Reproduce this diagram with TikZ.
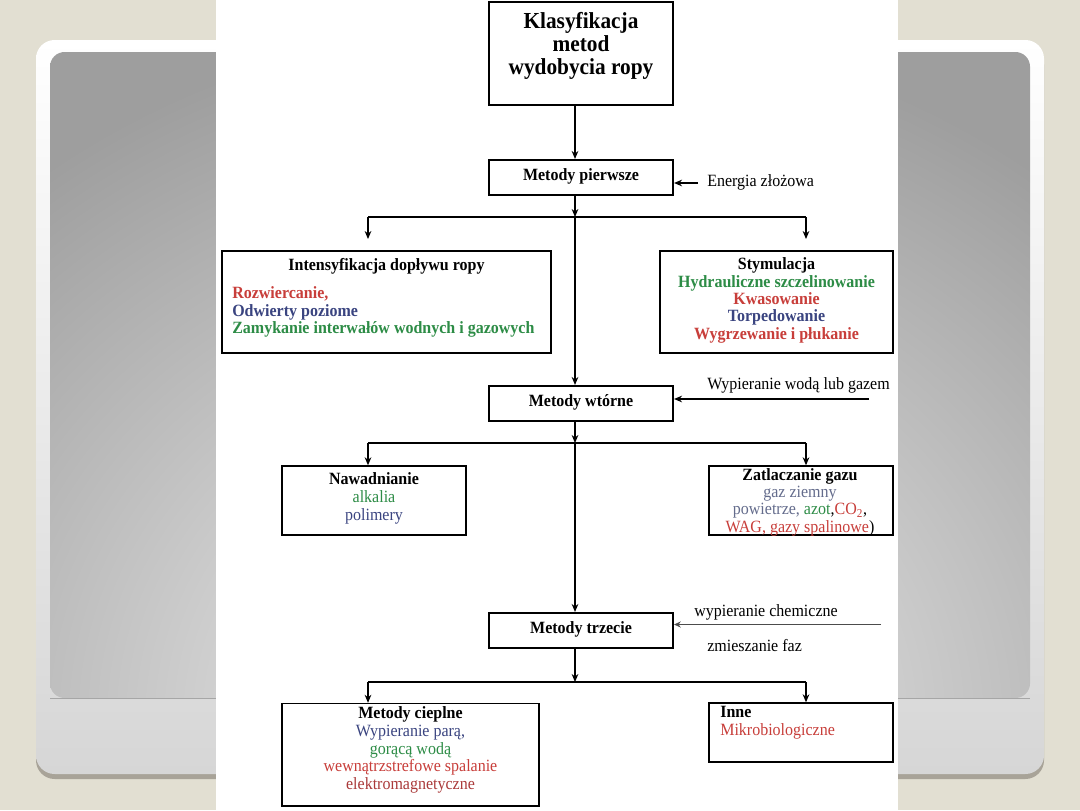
\documentclass[tikz,border=0pt]{standalone}
\usepackage{fontspec}
\setmainfont{Liberation Serif}[FakeStretch=0.93]
\usetikzlibrary{arrows.meta}
\definecolor{beigebg}{RGB}{226,223,210}
\definecolor{shadowc}{RGB}{168,163,152}
\definecolor{framebot}{RGB}{214,214,214}
\definecolor{grayout}{RGB}{158,158,158}
\definecolor{grayin}{RGB}{242,242,242}
\definecolor{cred}{RGB}{200,62,58}
\definecolor{cgreen}{RGB}{45,140,70}
\definecolor{cblue}{RGB}{58,68,128}
\definecolor{cgblue}{RGB}{100,108,140}
\definecolor{cbrown}{RGB}{170,58,58}
\begin{document}
\begin{tikzpicture}[x=0.75pt,y=-0.75pt,
  box/.style={draw, line width=1.1pt, fill=white, inner sep=0pt},
  mainbox/.style={box, line width=1.6pt, minimum width=184*0.75pt, minimum height=35*0.75pt},
  txt/.style={font=\fontsize{12.9}{13}\selectfont, inner sep=0pt},
  btxt/.style={font=\bfseries\fontsize{12.9}{13}\selectfont, inner sep=0pt},
  conn/.style={line width=0.8pt},
  arr/.style={conn, -{Stealth[length=6pt,width=5pt]}},
  thinarr/.style={line width=0.5pt, draw=black!70, -{Stealth[length=5pt,width=4.5pt]}}
]
\useasboundingbox (0,0) rectangle (1080,810);
% slide background
\fill[beigebg] (0,0) rectangle (1080,810);
\fill[shadowc, rounded corners=14pt] (36,46) rectangle (1044,779);
\shade[top color=white, bottom color=framebot, rounded corners=14pt] (36,40) rectangle (1044,774);
\begin{scope}
  \clip[rounded corners=11pt] (50,52) rectangle (1030,698);
  \shade[inner color=grayin, outer color=grayout] (-260,20) rectangle (1340,1420);
\end{scope}
\draw[black!35, line width=0.6pt] (50,698) -- (1030,698);
% white page
\fill[white] (216,0) rectangle (898,810);

% main chain
\node[box, line width=2.2pt, minimum width=184*0.75pt, minimum height=103*0.75pt] (title) at (581,53.5) {};
\node[font=\bfseries\fontsize{17.2}{17.3}\selectfont, align=center, inner sep=0pt] (titletxt) at (581,45.5) {Klasyfikacja\\metod\\wydobycia ropy};

\node[mainbox] (p1) at (581,177.5) {};
\node[btxt] (p1txt) at (581,176.5) {Metody pierwsze};
\node[mainbox] (p2) at (581,403.5) {};
\node[btxt] (p2txt) at (581,402.5) {Metody wtórne};
\node[mainbox] (p3) at (581,630.5) {};
\node[btxt] (p3txt) at (581,629.5) {Metody trzecie};

% side inputs
\node[txt, anchor=west] (en) at (707,182) {Energia złożowa};
\node[txt, anchor=west] (wyp) at (707,385) {Wypieranie wodą lub gazem};
\node[txt, anchor=west] (chem) at (694,612) {wypieranie chemiczne};
\node[txt, anchor=west] (zm) at (707,646) {zmieszanie faz};
\coordinate (s1) at (698,183);
\coordinate (s2) at (869,399);
\coordinate (s3) at (881,624.5);
\draw[arr] (s1) -- (s1 -| p1.east);
\draw[arr] (s2) -- (s2 -| p2.east);
\draw[thinarr] (s3) -- (s3 -| p3.east);

% first level boxes
\node[box, minimum width=329*0.75pt, minimum height=102*0.75pt] (intens) at (386.5,302) {};
\node[btxt] (intenshead) at (386.5,266) {Intensyfikacja dopływu ropy};
\node[btxt, anchor=west, align=left] (intenslist) at (232,312)
  {\textcolor{cred}{Rozwiercanie,}\\\textcolor{cblue}{Odwierty poziome}\\\textcolor{cgreen}{Zamykanie interwałów wodnych i gazowych}};

\node[box, minimum width=233*0.75pt, minimum height=102*0.75pt] (stym) at (776.5,302) {};
\node[btxt, align=center] (stymtxt) at (776.5,300.5)
  {Stymulacja\\\textcolor{cgreen}{Hydrauliczne szczelinowanie}\\\textcolor{cred}{Kwasowanie}\\\textcolor{cblue}{Torpedowanie}\\\textcolor{cred}{Wygrzewanie i płukanie}};

% second level boxes
\node[box, minimum width=184*0.75pt, minimum height=69*0.75pt] (naw) at (374,500.5) {};
\node[txt, align=center, font=\fontsize{12.9}{13.5}\selectfont] (nawtxt) at (374,498)
  {\textbf{Nawadnianie}\\\textcolor{cgreen}{alkalia}\\\textcolor{cblue}{polimery}};

\node[box, minimum width=184*0.75pt, minimum height=69*0.75pt] (zatl) at (801,500.5) {};
\node[txt, align=center] (zatltxt) at (800,502)
  {\textbf{Zatlaczanie gazu}\\\textcolor{cgblue}{gaz ziemny}\\\textcolor{cgblue}{powietrze,} \textcolor{cgreen}{azot},\textcolor{cred}{CO\textsubscript{2}},\\\textcolor{cred}{WAG, gazy spalinowe})};

% third level boxes
\node[box, minimum width=257*0.75pt, minimum height=102.5*0.75pt] (ciep) at (410.5,754.75) {};
\node[txt, align=center, font=\fontsize{12.9}{13.3}\selectfont] (cieptxt) at (410.5,750)
  {\textbf{Metody cieplne}\\\textcolor{cblue}{Wypieranie parą,}\\\textcolor{cgreen}{gorącą wodą}\\\textcolor{cred}{wewnątrzstrefowe spalanie}\\\textcolor{cbrown}{elektromagnetyczne}};

\node[box, minimum width=184*0.75pt, minimum height=59*0.75pt] (inne) at (801,732.5) {};
\node[txt, anchor=west, align=left, font=\fontsize{12.9}{13.5}\selectfont] (innetxt) at (720,723)
  {\textbf{Inne}\\\textcolor{cred}{Mikrobiologiczne}};

% connectors
\coordinate (axis) at (575,0);
\coordinate (j1) at (575,217);
\coordinate (j1l) at (368,217);
\coordinate (j1r) at (806,217);
\coordinate (a1l) at (368,239);
\coordinate (a1r) at (806,239);
\coordinate (j2) at (575,443);
\coordinate (j2l) at (368,443);
\coordinate (j2r) at (806,443);
\coordinate (j3) at (575,682);
\coordinate (j3l) at (368,682);
\coordinate (j3r) at (806,682);

\draw[arr] (title.south -| axis) -- (p1.north -| axis);
\draw[arr] (p1.south -| axis) -- (j1);
\draw[conn] (j1l) -- (j1r);
\draw[arr] (j1l) -- (a1l);
\draw[arr] (j1r) -- (a1r);
\draw[arr] (j1) -- (p2.north -| axis);

\draw[arr] (p2.south -| axis) -- (j2);
\draw[conn] (j2l) -- (j2r);
\draw[arr] (j2l) -- (j2l |- naw.north);
\draw[arr] (j2r) -- (j2r |- zatl.north);
\draw[arr] (j2) -- (p3.north -| axis);

\draw[arr] (p3.south -| axis) -- (j3);
\draw[conn] (j3l) -- (j3r);
\draw[arr] (j3l) -- (j3l |- ciep.north);
\draw[arr] (j3r) -- (j3r |- inne.north);
\end{tikzpicture}
\end{document}
